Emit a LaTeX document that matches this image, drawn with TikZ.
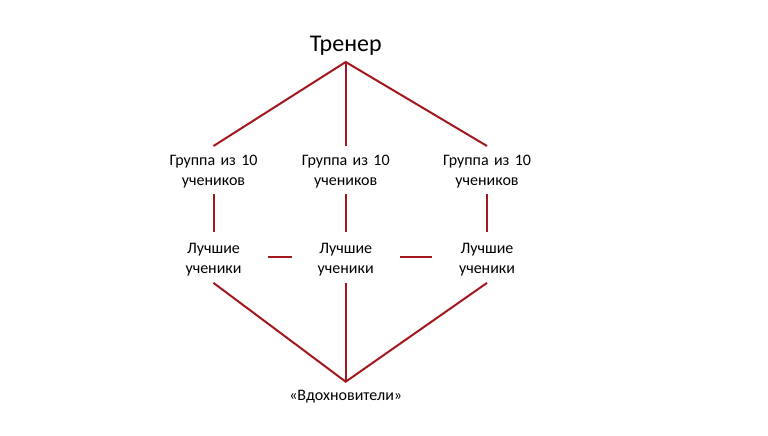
\documentclass[tikz,border=0pt]{standalone}
\usepackage{fontspec}
\setmainfont{Carlito}
\definecolor{linered}{RGB}{163,24,30}
\begin{document}
\begin{tikzpicture}[x=1pt,y=-1pt,
  conn/.style={draw=linered,line width=2pt},
  small/.style={inner sep=0pt,text width=100pt,align=center,font=\fontsize{16}{20}\selectfont},
]
\useasboundingbox[fill=white] (0,0) rectangle (768,436);
% top node
\node[inner sep=0pt,anchor=south,text depth=10.3pt,font=\fontsize{24}{28}\selectfont] (tr) at (345.7,62) {Тренер};
% groups
\node[small,anchor=north] (g1) at (213.5,146) {\rule{0pt}{19.7pt}Группа из 10\\учеников\rule[-8.3pt]{0pt}{8.3pt}};
\node[small,anchor=north] (g2) at (345.7,146) {\rule{0pt}{19.7pt}Группа из 10\\учеников\rule[-8.3pt]{0pt}{8.3pt}};
\node[small,anchor=north] (g3) at (487,146) {\rule{0pt}{19.7pt}Группа из 10\\учеников\rule[-8.3pt]{0pt}{8.3pt}};
% best
\node[small,anchor=north] (l1) at (213.5,232) {\rule{0pt}{21.5pt}Лучшие\\ученики\rule[-9pt]{0pt}{9pt}};
\node[small,anchor=north] (l2) at (345.7,232) {\rule{0pt}{21.5pt}Лучшие\\ученики\rule[-9pt]{0pt}{9pt}};
\node[small,anchor=north] (l3) at (487,232) {\rule{0pt}{21.5pt}Лучшие\\ученики\rule[-9pt]{0pt}{9pt}};
% bottom
\node[small,text width=140pt,anchor=north] (v) at (345.7,381.7) {\rule{0pt}{18.7pt}«Вдохновители»};
% connectors
\draw[conn] (g1.north) -- (tr.south) -- (g3.north);
\draw[conn] (tr.south) -- (g2.north);
\draw[conn] (g1.south) -- (l1.north);
\draw[conn] (g2.south) -- (l2.north);
\draw[conn] (g3.south) -- (l3.north);
\draw[conn,shorten <=4.5pt,shorten >=3.7pt] (l1.east) -- (l2.west);
\draw[conn,shorten <=4.3pt,shorten >=5pt] (l2.east) -- (l3.west);
\draw[conn] (l1.south) -- (v.north) -- (l3.south);
\draw[conn] (l2.south) -- (v.north);
\end{tikzpicture}
\end{document}
